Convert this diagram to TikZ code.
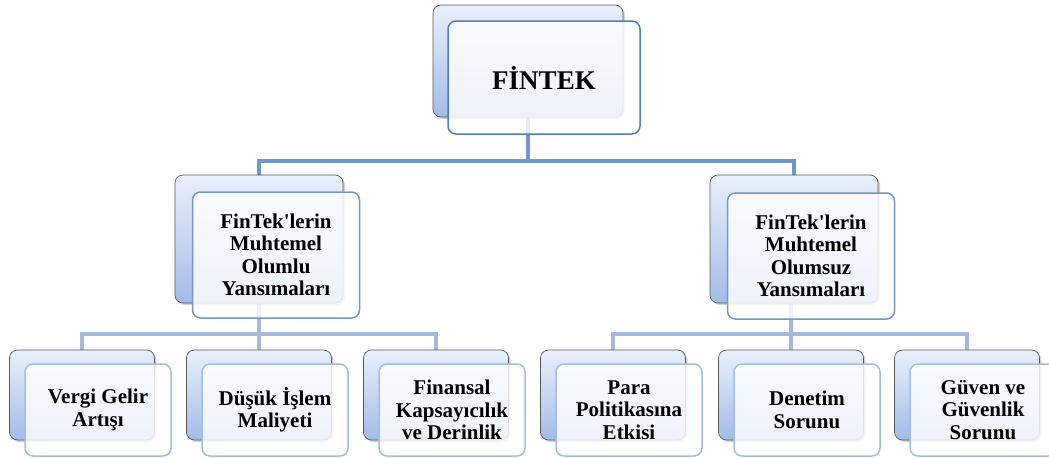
\documentclass[tikz,border=0pt]{standalone}
\usepackage{fontspec}
\setmainfont{Liberation Serif}[Ligatures=TeXOff]
\usetikzlibrary{positioning, shadows, backgrounds}

\definecolor{backtop}{HTML}{EAF0FB}
\definecolor{backbot}{HTML}{A2BCE9}
\definecolor{topedge}{HTML}{4F7DBA}
\definecolor{midedge}{HTML}{7396CB}
\definecolor{lowedge}{HTML}{A6BCDF}
\definecolor{topline}{HTML}{7196C7}
\definecolor{lowline}{HTML}{A5B8D9}

\begin{document}
\begin{tikzpicture}[
    x=1pt, y=-1pt,
    font=\bfseries\fontsize{21}{22.5}\selectfont,
    back/.style={
        draw=gray!70!black,
        line width=0.7pt,
        rounded corners=8pt,
        top color=backtop,
        bottom color=backbot,
        drop shadow={opacity=0.35, shadow xshift=2pt, shadow yshift=-2pt}
    },
    front/.style={
        line width=1.5pt,
        rounded corners=8pt,
        fill=white,
        fill opacity=0.82,
        text opacity=1,
        align=center,
        inner sep=0pt
    },
    backtopbox/.style={back, minimum width=190pt, minimum height=112pt},
    fronttopbox/.style={front, draw=topedge, minimum width=192pt, minimum height=113pt},
    backmid/.style={back, minimum width=168pt, minimum height=128pt},
    frontmid/.style={front, draw=midedge, minimum width=167pt, minimum height=126pt},
    backlow/.style={back, minimum width=145pt, minimum height=90pt},
    frontlow/.style={front, draw=lowedge, minimum width=146pt, minimum height=92pt},
    tline/.style={draw=topline, line width=4pt},
    lline/.style={draw=lowline, line width=4pt}
]

\useasboundingbox (0,0) rectangle (1049,458);

% ==================== FinTek ====================
\node[backtopbox] (topb) at (528,61) {};
\node[fronttopbox, font=\bfseries\fontsize{27}{30}\selectfont] (topf) at (544,77.5) {FİNTEK};

% ==================== Olumlu / Olumsuz ====================
\node[backmid]  (mlb) at (259,239) {};
\node[frontmid] (mlf) at (276,255) {FinTek'lerin\\Muhtemel\\Olumlu\\Yansımaları};

\node[backmid]  (mrb) at (794,239) {};
\node[frontmid] (mrf) at (811,256) {FinTek'lerin\\Muhtemel\\Olumsuz\\Yansımaları};

% ==================== Olumlu yansimalar ====================
\node[backlow]  (l1b) at (82,395)  {};
\node[frontlow] (l1f) at (98,410)  {Vergi Gelir\\Artışı};
\node[backlow]  (l2b) at (259,395) {};
\node[frontlow] (l2f) at (275,410) {Düşük İşlem\\Maliyeti};
\node[backlow]  (l3b) at (436,395) {};
\node[frontlow] (l3f) at (452,410) {Finansal\\Kapsayıcılık\\ve Derinlik};

% ==================== Olumsuz yansimalar ====================
\node[backlow]  (r1b) at (613,395) {};
\node[frontlow] (r1f) at (629,410) {Para\\Politikasına\\Etkisi};
\node[backlow]  (r2b) at (791,395) {};
\node[frontlow] (r2f) at (807,410) {Denetim\\Sorunu};
\node[backlow]  (r3b) at (967,395) {};
\node[frontlow] (r3f) at (983,410) {Güven ve\\Güvenlik\\Sorunu};

% ==================== Connectors ====================
\coordinate (tj) at (528,161);
\coordinate (lj) at (259,334);
\coordinate (rj) at (791,334);

\begin{pgfonlayer}{background}
\draw[tline] (topb.south) -- (tj);
\draw[tline] (mlb.north) |- (tj) -| (mrb.north);

\draw[lline] (mlb.south) -- (lj);
\draw[lline] (l1b.north) |- (lj) -| (l3b.north);
\draw[lline] (l2b.north) -- (lj);

\draw[lline] (mrb.south -| rj) -- (rj);
\draw[lline] (r1b.north) |- (rj) -| (r3b.north);
\draw[lline] (r2b.north) -- (rj);
\end{pgfonlayer}

\end{tikzpicture}
\end{document}
